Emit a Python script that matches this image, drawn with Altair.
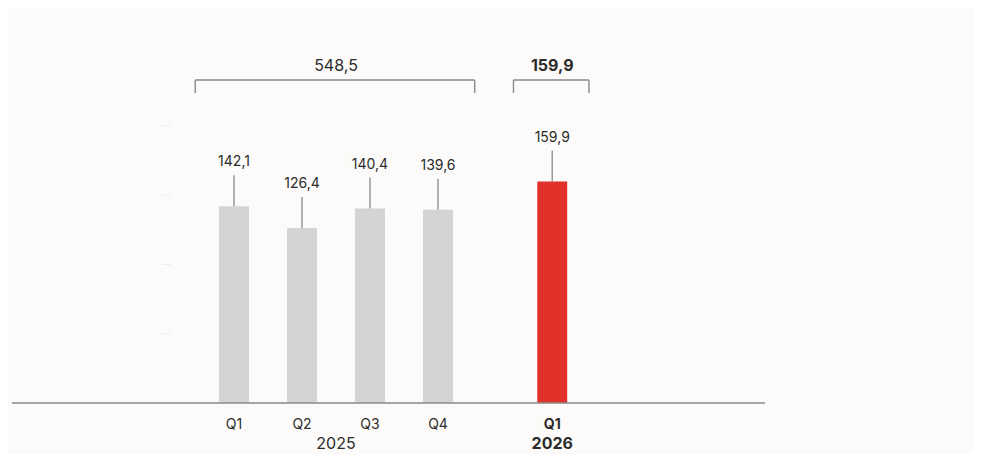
import altair as alt
import pandas as pd

# ---- data ----
quarters = ["Q1", "Q2", "Q3", "Q4", "Q1"]
years = ["2025", "2025", "2025", "2025", "2026"]
values = [142.1, 126.4, 140.4, 139.6, 159.9]
year_totals = {"2025": 548.5, "2026": 159.9}
y_ticks = [50, 100, 150, 200]

# ---- layout helpers ----
W, H = 753, 395
PX_PER_UNIT = 1.385          # vertical pixels per value unit
YEAR_GAP = 0.68              # extra slot gap between years
BAR_HALF = 0.22
X_DOMAIN = [-3.265, 7.809]
Y_DOMAIN = [0, H / PX_PER_UNIT]
FONT = "Inter"
TXT = "#2b2b2b"


def fmt(v):
    return f"{v:.1f}".replace(".", ",")


pos = []
for i, y in enumerate(years):
    pos.append(i + (YEAR_GAP if y == "2026" else 0))

df = pd.DataFrame({
    "pos": pos, "value": values, "quarter": quarters, "year": years,
})
df["label"] = df["value"].map(fmt)
df["x1"] = df["pos"] - BAR_HALF
df["x2"] = df["pos"] + BAR_HALF
df["lead"] = df["value"] + 31 / PX_PER_UNIT
df["hl"] = df["year"] == "2026"

grp = df.groupby("year")["pos"].agg(["min", "max"]).reset_index()
grp["center"] = (grp["min"] + grp["max"]) / 2
grp["left"] = grp["min"] - 0.57
grp["right"] = grp["max"] + 0.54
grp["total"] = grp["year"].map(lambda y: fmt(year_totals[y]))

ticks_df = pd.DataFrame({"v": y_ticks})
ticks_df["a"] = -1.06
ticks_df["b"] = -0.93

xs = alt.Scale(domain=X_DOMAIN, nice=False, zero=False)
ys = alt.Scale(domain=Y_DOMAIN, nice=False)


def X(f):
    return alt.X(f, type="quantitative", scale=xs, axis=None)


def Y(f):
    return alt.Y(f, type="quantitative", scale=ys, axis=None)


base = alt.Chart(df)

baseline = alt.Chart(pd.DataFrame({"a": [0]})).mark_rule(
    color="#8a8a8a", strokeWidth=1.6
).encode(x=alt.value(0), x2=alt.value(W), y=alt.value(H))

yt = alt.Chart(ticks_df).mark_rule(color="#ededed", strokeWidth=1).encode(
    x=X("a"), x2="b", y=Y("v")
)

bars = base.mark_bar().encode(
    x=X("x1"), x2="x2", y=Y("value"), y2=alt.datum(0),
    color=alt.condition("datum.hl", alt.value("#e2312b"), alt.value("#d4d4d4")),
)

leads = base.mark_rule(color="#9a9a9a", strokeWidth=1.5).encode(
    x=X("pos"), y=Y("value"), y2="lead"
)

vlabels = base.mark_text(
    font=FONT, fontSize=14, color=TXT, dy=-44, baseline="middle"
).encode(x=X("pos"), y=Y("value"), text="label:N")

qlab_n = base.transform_filter("!datum.hl").mark_text(
    font=FONT, fontSize=14, color=TXT, baseline="middle"
).encode(x=X("pos"), y=alt.value(417), text="quarter:N")
qlab_b = base.transform_filter("datum.hl").mark_text(
    font=FONT, fontSize=14, color=TXT, baseline="middle", fontWeight="bold"
).encode(x=X("pos"), y=alt.value(417), text="quarter:N")

gbase = alt.Chart(grp)
ylab_n = gbase.transform_filter("datum.year == '2025'").mark_text(
    font=FONT, fontSize=16, color=TXT, baseline="alphabetic"
).encode(x=X("center"), y=alt.value(441), text="year:N")
ylab_b = gbase.transform_filter("datum.year == '2026'").mark_text(
    font=FONT, fontSize=16, color=TXT, baseline="alphabetic", fontWeight="bold"
).encode(x=X("center"), y=alt.value(441), text="year:N")

br_h = gbase.mark_rule(color="#8a8a8a", strokeWidth=1.4).encode(
    x=X("left"), x2="right", y=alt.value(72)
)
br_l = gbase.mark_rule(color="#8a8a8a", strokeWidth=1.4).encode(
    x=X("left"), y=alt.value(72), y2=alt.value(85)
)
br_r = gbase.mark_rule(color="#8a8a8a", strokeWidth=1.4).encode(
    x=X("right"), y=alt.value(72), y2=alt.value(85)
)
tot_n = gbase.transform_filter("datum.year == '2025'").mark_text(
    font=FONT, fontSize=16, color=TXT, baseline="middle"
).encode(x=X("center"), y=alt.value(58), text="total:N")
tot_b = gbase.transform_filter("datum.year == '2026'").mark_text(
    font=FONT, fontSize=16, color=TXT, baseline="middle", fontWeight="bold"
).encode(x=X("center"), y=alt.value(58), text="total:N")

chart = alt.layer(
    yt, bars, leads, baseline, vlabels, qlab_n, qlab_b, ylab_n, ylab_b,
    br_h, br_l, br_r, tot_n, tot_b,
).properties(
    width=W, height=H,
    autosize=alt.AutoSizeParams(type="none"),
    padding={"left": 4, "top": 0, "right": 208, "bottom": 51},
    background="#fcfbf9",
).configure_view(stroke=None)

chart.save("out.html", embed_options={"renderer": "svg", "actions": False})
